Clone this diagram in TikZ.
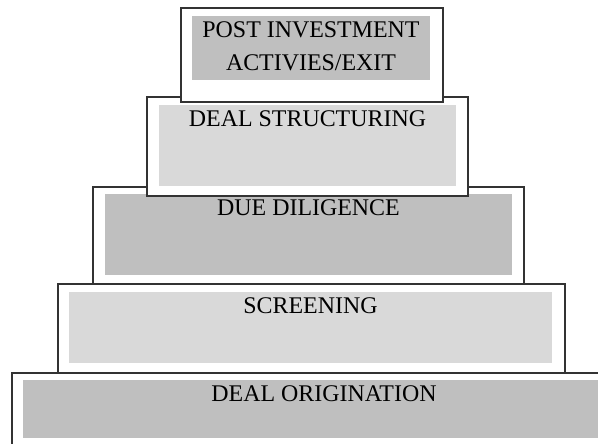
\documentclass[tikz,border=0pt]{standalone}
\usepackage{fontspec}
\setmainfont{Liberation Serif}
\usetikzlibrary{fit, positioning}

\definecolor{bandDark}{HTML}{BFBFBF}
\definecolor{bandLight}{HTML}{D9D9D9}
\definecolor{edge}{HTML}{333333}

\begin{document}
\begin{tikzpicture}[
  x=0.025cm, y=-0.025cm,
  font=\fontsize{17}{23.5}\selectfont,
  frame/.style={rectangle, draw=edge, line width=1pt, fill=white, inner sep=0pt},
  band/.style={rectangle, draw=none, inner sep=0pt},
  stage/.style={inner sep=0pt, align=center}
]
  \path[use as bounding box, clip] (0,0) rectangle (598,443);

  % tiers, drawn bottom up so each frame sits over the one below
  \node[frame, fit={(12,373) (637,455)}] (origF) {};
  \node[band, fill=bandDark, fit={(23,380) (625,438)}] (orig) {};
  \node[stage, below=0.15cm of orig.north] (origT) {DEAL ORIGINATION};

  \node[frame, fit={(58,284) (565,373)}] (scrF) {};
  \node[band, fill=bandLight, fit={(69,292) (552,363)}] (scr) {};
  \node[stage, below=0.15cm of scr.north] (scrT) {SCREENING};

  \node[frame, fit={(93,187) (524,284)}] (ddF) {};
  \node[band, fill=bandDark, fit={(105,194) (512,275)}] (dd) {};
  \node[stage, below=0.15cm of dd.north] (ddT) {DUE DILIGENCE};

  \node[frame, fit={(147,97) (468,196)}] (strF) {};
  \node[band, fill=bandLight, fit={(159,105) (456,186)}] (str) {};
  \node[stage, below=0.15cm of str.north] (strT) {DEAL STRUCTURING};

  \node[frame, fit={(181,8) (443,102)}] (exitF) {};
  \node[band, fill=bandDark, fit={(192,16) (430,80)}] (exit) {};
  \node[stage, below=0.15cm of exit.north] (exitT) {POST INVESTMENT\\ACTIVIES/EXIT};
\end{tikzpicture}
\end{document}
